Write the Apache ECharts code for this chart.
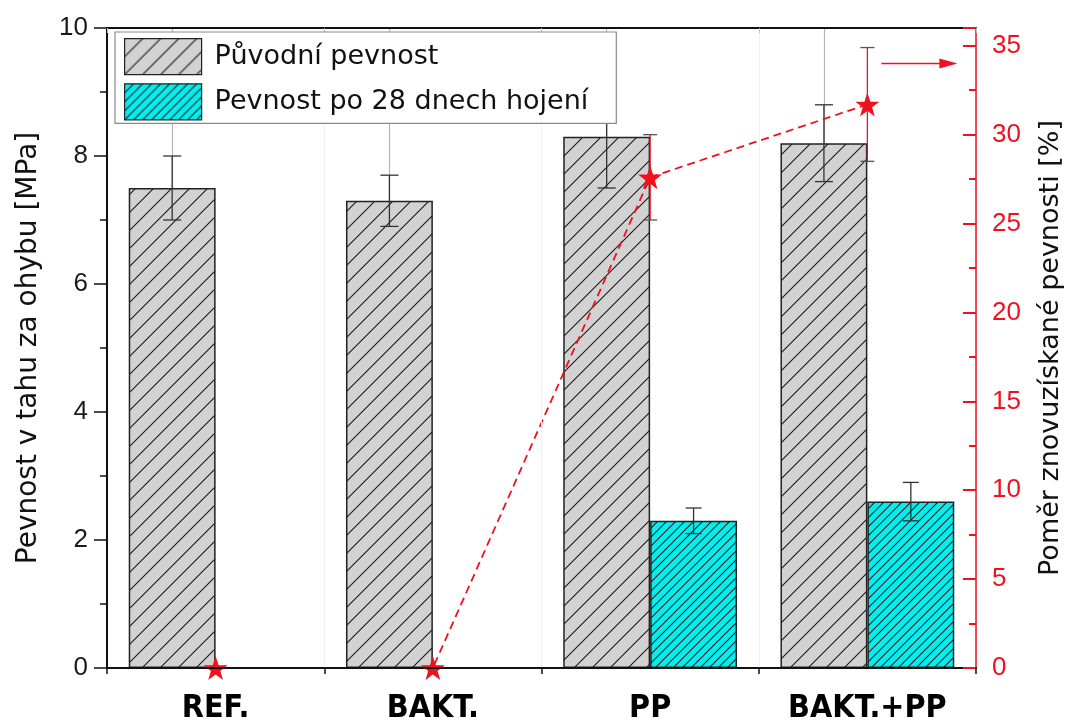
<!DOCTYPE html>
<html><head><meta charset="utf-8">
<script src="https://cdn.jsdelivr.net/npm/echarts@6/dist/echarts.min.js"></script>
<style>html,body{margin:0;padding:0;background:#fff}#c{width:1069px;height:724px}</style>
</head><body><div id="c"></div>
<script>
// ---- data ----
const categories = ['REF.', 'BAKT.', 'PP', 'BAKT.+PP'];
const originalStrength = [7.5, 7.3, 8.3, 8.2];
const originalErr = [0.5, 0.4, 0.8, 0.6];
const healedStrength = [null, null, 2.3, 2.6];
const healedErr = [null, null, 0.2, 0.3];
const recoveryRatio = [0, 0, 27.6, 31.7];
const recoveryErr = [null, null, 2.4, 3.2];
const seriesNames = ['Původní pevnost', 'Pevnost po 28 dnech hojení'];
const leftAxisName = 'Pevnost v tahu za ohybu [MPa]';
const rightAxisName = 'Poměr znovuzískané pevnosti [%]';

// ---- hatch patterns ----
function hatch(bg, step, lineColor) {
  const c = document.createElement('canvas');
  c.width = step; c.height = step;
  const g = c.getContext('2d');
  g.fillStyle = bg; g.fillRect(0, 0, step, step);
  g.strokeStyle = lineColor; g.lineWidth = 1.1;
  g.beginPath();
  g.moveTo(0, step); g.lineTo(step, 0);
  g.moveTo(-step, step); g.lineTo(step, -step);
  g.moveTo(0, 2 * step); g.lineTo(2 * step, 0);
  g.stroke();
  return { image: c, repeat: 'repeat' };
}
const grayFill = hatch('#d2d2d2', 18, '#1a1a1a');
const cyanFill = hatch('#00f0f0', 9, '#1a1a1a');

function errData(vals, errs) {
  const out = [];
  vals.forEach((v, i) => { if (v != null && errs[i] != null) out.push([i, v - errs[i], v + errs[i]]); });
  return out;
}
function errRender(offsetFrac, capW, lineColor, capColor) {
  return function (params, api) {
    const xi = api.value(0);
    const lo = api.coord([xi, api.value(1)]);
    const hi = api.coord([xi, api.value(2)]);
    const band = api.size([1, 0])[0];
    const x = lo[0] + offsetFrac * band;
    return { type: 'group', children: [
      { type: 'line', shape: { x1: x, y1: hi[1], x2: x, y2: lo[1] }, style: { stroke: lineColor, lineWidth: 1.3 } },
      { type: 'line', shape: { x1: x - capW / 2, y1: hi[1], x2: x + capW / 2, y2: hi[1] }, style: { stroke: capColor, lineWidth: 1.3 } },
      { type: 'line', shape: { x1: x - capW / 2, y1: lo[1], x2: x + capW / 2, y2: lo[1] }, style: { stroke: capColor, lineWidth: 1.3 } }
    ] };
  };
}

const star = 'path://M50,0 L61.8,35.1 L98.1,35.1 L68.8,56.7 L79.4,91.3 L50,70 L20.6,91.3 L31.2,56.7 L1.9,35.1 L38.2,35.1 Z';
const RED = '#f0101e';

const chart = echarts.init(document.getElementById('c'), null, { renderer: 'canvas' });
chart.setOption({
  animation: false,
  backgroundColor: '#fff',
  grid: { left: 107, right: 93, top: 28, bottom: 56, outerBoundsMode: 'none', containLabel: false },
  legend: {
    data: seriesNames,
    orient: 'vertical', left: 115, top: 32,
    itemWidth: 77, itemHeight: 36, itemGap: 8,
    padding: [6, 28, 3, 9],
    backgroundColor: '#fff', borderColor: '#8a8a8a', borderWidth: 1.2,
    icon: 'rect',
    itemStyle: { borderColor: '#222', borderWidth: 1.2 },
    textStyle: { fontFamily: 'DejaVu Sans', fontSize: 27, color: '#111', padding: [0, 0, 0, 8] },
    z: 20
  },
  xAxis: [
    {
      type: 'category', data: categories, position: 'bottom', boundaryGap: true, z: 10,
      axisLine: { lineStyle: { color: '#111', width: 2 } },
      axisTick: { alignWithLabel: true, length: 12, lineStyle: { color: '#111', width: 2 } },
      axisLabel: { fontFamily: 'DejaVu Sans Condensed', fontWeight: 'bold', fontSize: 32, color: '#000', margin: 25 },
      splitLine: { show: false }
    },
    {
      type: 'category', data: categories, position: 'bottom', boundaryGap: true, z: 10,
      axisLine: { show: false },
      axisTick: { show: true, length: 6, lineStyle: { color: '#111', width: 1.5 } },
      axisLabel: { show: false },
      splitLine: { show: true, lineStyle: { color: '#f0f0f0', width: 1 } }
    },
    {
      type: 'category', data: categories, position: 'top', boundaryGap: true, z: 10,
      axisLine: { show: true, lineStyle: { color: '#111', width: 2 } },
      axisTick: { show: true, inside: true, length: 5, lineStyle: { color: '#bbb', width: 1 } },
      axisLabel: { show: false }
    }
  ],
  yAxis: [
    {
      type: 'value', min: 0, max: 10, interval: 2, position: 'left', z: 10,
      name: leftAxisName, nameLocation: 'middle', nameGap: 64,
      nameTextStyle: { fontFamily: 'DejaVu Sans', fontSize: 28, color: '#111' },
      axisLine: { show: true, lineStyle: { color: '#111', width: 2 } },
      axisTick: { show: true, inside: false, length: 13, lineStyle: { color: '#111', width: 1.5 } },
      minorTick: { show: true, splitNumber: 2, length: 7, lineStyle: { color: '#111', width: 1.5 } },
      axisLabel: { fontFamily: 'Liberation Sans', fontSize: 26, color: '#1a1a1a', margin: 19 },
      splitLine: { show: false }
    },
    {
      type: 'value', min: 0, max: 36, interval: 5, position: 'right', z: 10,
      name: rightAxisName, nameLocation: 'middle', nameGap: 61,
      nameTextStyle: { fontFamily: 'DejaVu Sans', fontSize: 27, color: '#111' },
      axisLine: { show: true, lineStyle: { color: RED, width: 1.5 } },
      axisTick: { show: true, inside: true, length: 13, lineStyle: { color: RED, width: 2 } },
      minorTick: { show: true, splitNumber: 2, length: 7, lineStyle: { color: RED, width: 2 } },
      axisLabel: { fontFamily: 'Liberation Sans', fontSize: 26, color: RED, margin: 16, showMaxLabel: false },
      splitLine: { show: false }
    }
  ],
  series: [
    {
      name: seriesNames[0], type: 'bar', xAxisIndex: 0, yAxisIndex: 0,
      data: originalStrength, barWidth: '40%', barGap: '0%',
      itemStyle: { color: grayFill, borderColor: '#222', borderWidth: 1.5 },
      markLine: {
        silent: true, symbol: 'none', label: { show: false }, z: 1,
        lineStyle: { color: '#b4b4b4', width: 1.2, type: 'solid' },
        data: categories.map(c => ({ xAxis: c }))
      }
    },
    {
      name: seriesNames[1], type: 'bar', xAxisIndex: 0, yAxisIndex: 0,
      data: healedStrength, barWidth: '40%', barGap: '0%',
      itemStyle: { color: cyanFill, borderColor: '#222', borderWidth: 1.5 }
    },
    {
      type: 'custom', xAxisIndex: 0, yAxisIndex: 0, z: 3,
      renderItem: errRender(-0.2, 18, '#333', '#333'),
      encode: { x: 0, y: [1, 2] },
      data: errData(originalStrength, originalErr)
    },
    {
      type: 'custom', xAxisIndex: 0, yAxisIndex: 0, z: 3,
      renderItem: errRender(0.2, 16, '#333', '#333'),
      encode: { x: 0, y: [1, 2] },
      data: errData(healedStrength, healedErr)
    },
    {
      type: 'custom', xAxisIndex: 0, yAxisIndex: 1, z: 4,
      renderItem: errRender(0, 14, RED, '#555'),
      encode: { x: 0, y: [1, 2] },
      data: errData(recoveryRatio, recoveryErr)
    },
    {
      name: 'ratio', type: 'line', xAxisIndex: 0, yAxisIndex: 1, z: 5,
      data: recoveryRatio,
      symbol: star, symbolSize: 24,
      itemStyle: { color: RED },
      lineStyle: { color: RED, width: 1.8, type: [8, 5] }
    }
  ]
});

// annotation arrow pointing to the right axis
const cx = chart.convertToPixel({ xAxisIndex: 0 }, categories[3]);
const ay = chart.convertToPixel({ yAxisIndex: 1 }, 34);
chart.setOption({
  graphic: [
    { type: 'line', z: 30, shape: { x1: cx + 14, y1: ay, x2: cx + 78, y2: ay }, style: { stroke: RED, lineWidth: 1.5 } },
    { type: 'polygon', z: 30, shape: { points: [[cx + 72, ay - 5], [cx + 90, ay], [cx + 72, ay + 5]] }, style: { fill: RED } }
  ]
});
</script>
</body></html>
